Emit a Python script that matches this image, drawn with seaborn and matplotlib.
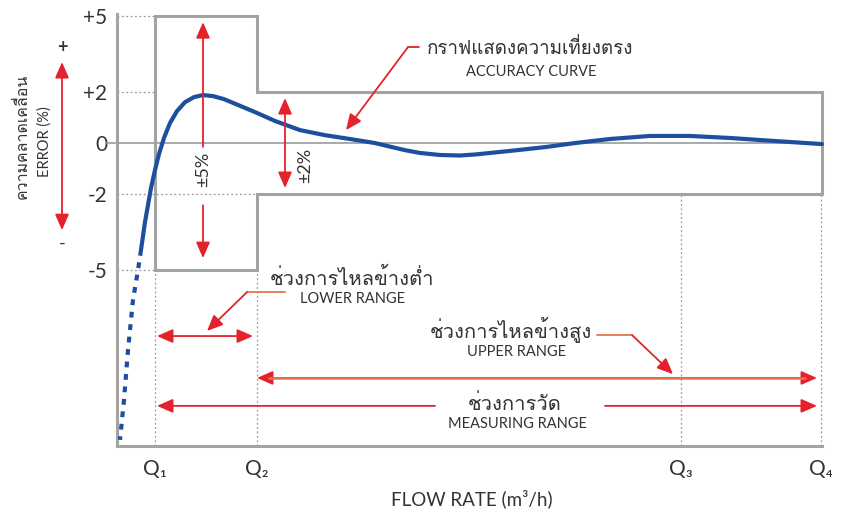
import numpy as np
import matplotlib
matplotlib.use("Agg")
import matplotlib.pyplot as plt
import seaborn as sns
from matplotlib import font_manager
from matplotlib.ft2font import FT2Font

# ----------------------------------------------------
# DATA
# ----------------------------------------------------

# flow positions of the Q marks (arbitrary flow units)
q_labels = ["Q₁", "Q₂", "Q₃", "Q₄"]
q_pos = [0.38, 1.40, 5.64, 7.04]

# error ticks
err_ticks = [5, 2, 0, -2, -5]
err_labels = ["+5", "+2", "0", "-2", "-5"]

# accuracy curve (solid part)
curve_flow = [0.24, 0.26, 0.28, 0.31, 0.34, 0.38, 0.42, 0.47, 0.53, 0.60, 0.68, 0.77,
              0.86, 0.96, 1.07, 1.21, 1.38, 1.58, 1.83, 2.08, 2.33, 2.58, 2.88, 3.03,
              3.23, 3.43, 3.58, 3.93, 4.28, 4.58, 4.93, 5.33, 5.73, 6.13, 6.58, 7.05]
curve_err = [-4.21, -3.66, -3.11, -2.44, -1.77, -1.06, -0.43, 0.20, 0.79, 1.26, 1.61, 1.81,
             1.89, 1.85, 1.73, 1.50, 1.22, 0.87, 0.51, 0.31, 0.16, 0.00, -0.28, -0.39,
             -0.47, -0.49, -0.45, -0.31, -0.16, 0.00, 0.16, 0.28, 0.28, 0.20, 0.08, -0.04]

# below Q1 (dashed part)
low_flow = [0.24, 0.21, 0.16, 0.11, 0.07, 0.03]
low_err = [-4.21, -5.00, -6.18, -8.15, -10.12, -11.69]

# ----------------------------------------------------
# FONTS
# ----------------------------------------------------

def find_thai_font():
    for f in font_manager.fontManager.ttflist:
        try:
            if 0x0E01 in FT2Font(f.fname).get_charmap():
                return f.name
        except Exception:
            pass
    return None

sns.set_theme(style="white")
thai = find_thai_font()
fams = ["Lato"] + ([thai] if thai else []) + ["DejaVu Sans"]
plt.rcParams["font.family"] = fams

RED = "#e3222b"
ORANGE = "#e8764c"
GRAY = "#a3a3a3"
DOT = "#9a9a9a"
TXT = "#333333"
BLUE = "#1d4f9e"

# ----------------------------------------------------
# PLOT
# ----------------------------------------------------

fig = plt.figure(figsize=(8.49, 5.19), dpi=100)
ax = fig.add_axes([117 / 849, 73 / 519, 710 / 849, 436 / 519])
ax.set_xlim(0, 7.10)
ax.set_ylim(-11.93, 5.24)

for s in ["top", "right"]:
    ax.spines[s].set_visible(False)
for s in ["left", "bottom"]:
    ax.spines[s].set_color(GRAY)
    ax.spines[s].set_linewidth(2.2)
ax.spines["left"].set_bounds(-11.93, 5.1)
ax.spines["bottom"].set_bounds(0, 7.05)

# dotted guides
dot_kw = dict(color=DOT, lw=0.9, ls=(0, (1.5, 2)), zorder=1)
ax.plot([0, q_pos[0]], [5, 5], **dot_kw)
ax.plot([0, q_pos[0]], [2, 2], **dot_kw)
ax.plot([0, q_pos[1]], [-2, -2], **dot_kw)
ax.plot([0, q_pos[0]], [-5, -5], **dot_kw)
ax.plot([q_pos[0], q_pos[0]], [-11.93, -5], **dot_kw)
ax.plot([q_pos[1], q_pos[1]], [-11.93, -5], **dot_kw)
ax.plot([q_pos[2], q_pos[2]], [-11.93, -2], **dot_kw)
ax.plot([q_pos[3], q_pos[3]], [-11.93, -2], **dot_kw)

# zero line
ax.plot([-0.10, 7.05], [0, 0], color=GRAY, lw=1.3, zorder=1, clip_on=False)

# accuracy limits box
bx = [q_pos[0], q_pos[1], q_pos[1], 7.05, 7.05, q_pos[1], q_pos[1], q_pos[0], q_pos[0]]
by = [5, 5, 2, 2, -2, -2, -5, -5, 5]
ax.plot(bx, by, color=GRAY, lw=2.2, zorder=2, solid_joinstyle="miter")

# curve
sns.lineplot(x=curve_flow, y=curve_err, ax=ax, color=BLUE, lw=3, estimator=None,
             sort=False, zorder=4)
sns.lineplot(x=low_flow, y=low_err, ax=ax, color=BLUE, lw=3, estimator=None,
             sort=False, zorder=4, linestyle=(0, (1.4, 1.6)))

# ticks
ax.set_yticks(err_ticks)
ax.set_yticklabels(err_labels)
ax.set_xticks(q_pos)
ax.set_xticklabels(q_labels)
ax.tick_params(axis="y", length=0, pad=7, labelsize=15, labelcolor=TXT)
ax.tick_params(axis="x", length=0, pad=9, labelsize=15, labelcolor=TXT)
ax.set_xlabel("FLOW RATE (m³/h)", fontsize=13.5, color=TXT, labelpad=8)


def arrow(x0, y0, x1, y1, style="-|>", color=RED):
    ax.annotate("", xy=(x1, y1), xytext=(x0, y0), annotation_clip=False,
                arrowprops=dict(arrowstyle=style + ",head_length=0.8,head_width=0.35",
                                mutation_scale=12, color=color, lw=1.3,
                                shrinkA=0, shrinkB=0), zorder=5)


# +-5% arrow
arrow(0.86, -0.15, 0.86, 4.76)
arrow(0.86, -2.45, 0.86, -4.53)
ax.text(0.86, -1.05, "±5%", rotation=90, ha="center", va="center", fontsize=13, color=TXT)

# +-2% arrow
arrow(1.68, 1.77, 1.68, -1.77, style="<|-|>")
ax.text(1.88, -0.9, "±2%", rotation=90, ha="center", va="center", fontsize=13, color=TXT)

# error direction arrow left of axis
arrow(-0.55, 3.19, -0.55, -3.43, style="<|-|>")
ax.text(-0.55, 3.75, "+", ha="center", va="center", fontsize=13, color=TXT,
        fontweight="bold", clip_on=False)
ax.text(-0.55, -3.95, "-", ha="center", va="center", fontsize=13, color=TXT,
        clip_on=False)
ax.text(-0.95, 0.25, "ความคลาดเคลื่อน", rotation=90, ha="center", va="center",
        fontsize=11.5, color=TXT, clip_on=False)
ax.text(-0.72, 0.05, "ERROR (%)", rotation=90, ha="center", va="center",
        fontsize=10.5, color=TXT, clip_on=False)

# accuracy curve label
ax.text(4.13, 3.78, "กราฟแสดงความเที่ยงตรง", ha="center", va="center", fontsize=13.5, color=TXT)
ax.text(4.14, 2.80, "ACCURACY CURVE", ha="center", va="center", fontsize=10.5, color=TXT)
ax.plot([3.02, 2.91], [3.78, 3.78], color=RED, lw=1.3, clip_on=False)
arrow(2.91, 3.78, 2.29, 0.51)

# lower range
ax.text(2.35, -5.3, "ช่วงการไหลข้างต่ำ", ha="center", va="center", fontsize=14.5, color=TXT)
ax.text(2.36, -6.14, "LOWER RANGE", ha="center", va="center", fontsize=10.5, color=TXT)
ax.plot([1.68, 1.30], [-5.87, -5.87], color=ORANGE, lw=1.3)
arrow(1.30, -5.87, 0.90, -7.40)
arrow(0.40, -7.6, 1.36, -7.6, style="<|-|>")

# upper range
ax.text(3.94, -7.36, "ช่วงการไหลข้างสูง", ha="center", va="center", fontsize=14.5, color=TXT)
ax.text(4.00, -8.22, "UPPER RANGE", ha="center", va="center", fontsize=10.5, color=TXT)
ax.plot([4.80, 5.15], [-7.56, -7.56], color=ORANGE, lw=1.3)
arrow(5.15, -7.56, 5.56, -9.10)
arrow(1.40, -9.25, 7.0, -9.25, style="<|-|>")
ax.plot([1.52, 6.88], [-9.25, -9.25], color=ORANGE, lw=1.8, zorder=6)

# measuring range
ax.text(3.98, -10.24, "ช่วงการวัด", ha="center", va="center", fontsize=14.5, color=TXT)
ax.text(4.01, -11.06, "MEASURING RANGE", ha="center", va="center", fontsize=10.5, color=TXT)
arrow(3.18, -10.35, 0.40, -10.35)
arrow(4.88, -10.35, 7.0, -10.35)

fig.savefig("out.png", dpi=100)
